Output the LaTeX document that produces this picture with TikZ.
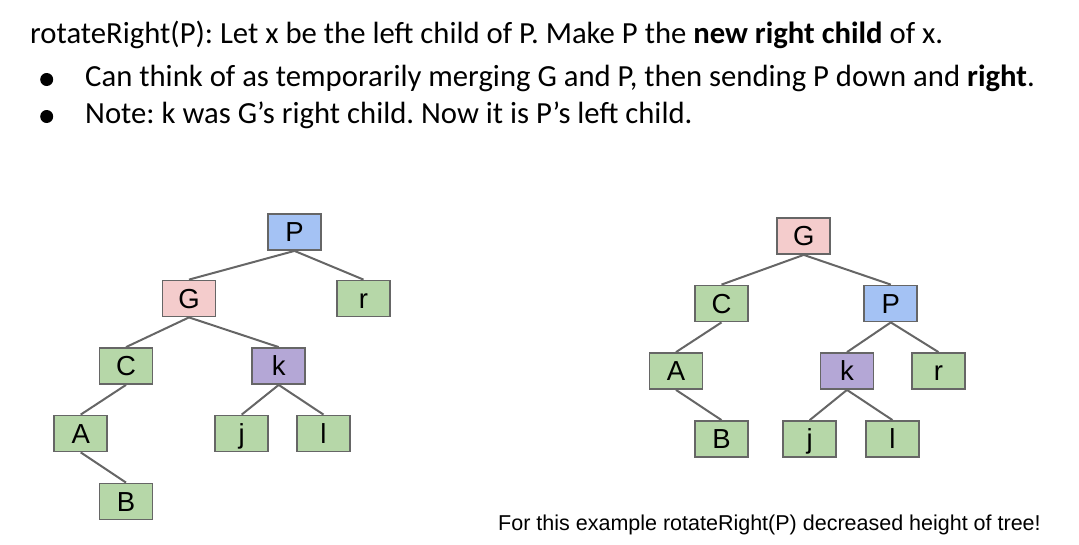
\documentclass[tikz,border=0pt]{standalone}
\usepackage{fontspec}
\setmainfont{Carlito}
\newfontfamily\arialf{Liberation Sans}
\frenchspacing
\definecolor{bluef}{HTML}{A4C2F4}
\definecolor{pinkf}{HTML}{F4CCCC}
\definecolor{greenf}{HTML}{B6D7A8}
\definecolor{purplef}{HTML}{B4A7D6}
\definecolor{edgec}{HTML}{666666}
\tikzset{
  tbox/.style={draw=edgec, line width=1.8pt, minimum width=53pt, minimum height=36pt, inner sep=0pt,
    text height=19.5pt, text depth=0pt, font=\arialf\fontsize{27.5}{30}\selectfont},
  gbox/.style={tbox, fill=greenf},
  bbox/.style={tbox, fill=bluef},
  pbox/.style={tbox, fill=pinkf},
  vbox/.style={tbox, fill=purplef},
  link/.style={draw=edgec, line width=2pt},
  txt/.style={anchor=base west, inner sep=0pt, font=\fontsize{30.7}{34}\selectfont},
}
\begin{document}
\begin{tikzpicture}[x=1pt,y=-1pt]
\useasboundingbox (0,0) rectangle (1079,544);
% header text
\node[txt] (h1) at (30,43) {rotateRight(P): Let x be the left child of P. Make P the \textbf{new right child} of x.};
\fill (46.7,79.5) circle (6.5pt);
\fill (46.7,116.5) circle (6.5pt);
\node[txt] (h2) at (85,86) {Can think of as temporarily merging G and P, then sending P down and \textbf{right}.};
\node[txt] (h3) at (85,123) {Note: k was G’s right child. Now it is P’s left child.};
% left tree
\node[bbox] (LP) at (294.5,232) {P};
\node[pbox] (LG) at (189,298.5) {G};
\node[gbox] (Lr) at (363.5,298.5) {r};
\node[gbox] (LC) at (126,366) {C};
\node[vbox] (Lk) at (278.7,366) {k};
\node[gbox] (LA) at (80.7,433.5) {A};
\node[gbox] (Lj) at (241.7,433.5) {j};
\node[gbox] (Ll) at (323.5,433.5) {l};
\node[gbox] (LB) at (126,501.5) {B};
\draw[link] (LP.south) -- (LG.north);
\draw[link] (LP.south) -- (Lr.north);
\draw[link] (LG.south) -- (LC.north);
\draw[link] (LG.south) -- (Lk.north);
\draw[link] (LC.south) -- (LA.north);
\draw[link] (Lk.south) -- (Lj.north);
\draw[link] (Lk.south) -- (Ll.north);
\draw[link] (LA.south) -- (LB.north);
% right tree
\node[pbox] (RG) at (803.7,236) {G};
\node[gbox] (RC) at (721.5,303.5) {C};
\node[bbox] (RP) at (890.8,303.5) {P};
\node[gbox] (RA) at (676,371) {A};
\node[vbox] (Rk) at (847,371) {k};
\node[gbox] (Rr) at (938.5,371) {r};
\node[gbox] (RB) at (721.5,439) {B};
\node[gbox] (Rj) at (809.7,439) {j};
\node[gbox] (Rl) at (892.5,439) {l};
\draw[link] (RG.south) -- (RC.north);
\draw[link] (RG.south) -- (RP.north);
\draw[link] (RC.south) -- (RA.north);
\draw[link] (RA.south) -- (RB.north);
\draw[link] (RP.south) -- (Rk.north);
\draw[link] (RP.south) -- (Rr.north);
\draw[link] (Rk.south) -- (Rj.north);
\draw[link] (Rk.south) -- (Rl.north);
% note
\node[anchor=base west, inner sep=0pt, font=\arialf\fontsize{21.5}{24}\selectfont] (note) at (498,530) {For this example rotateRight(P) decreased height of tree!};
\end{tikzpicture}
\end{document}
